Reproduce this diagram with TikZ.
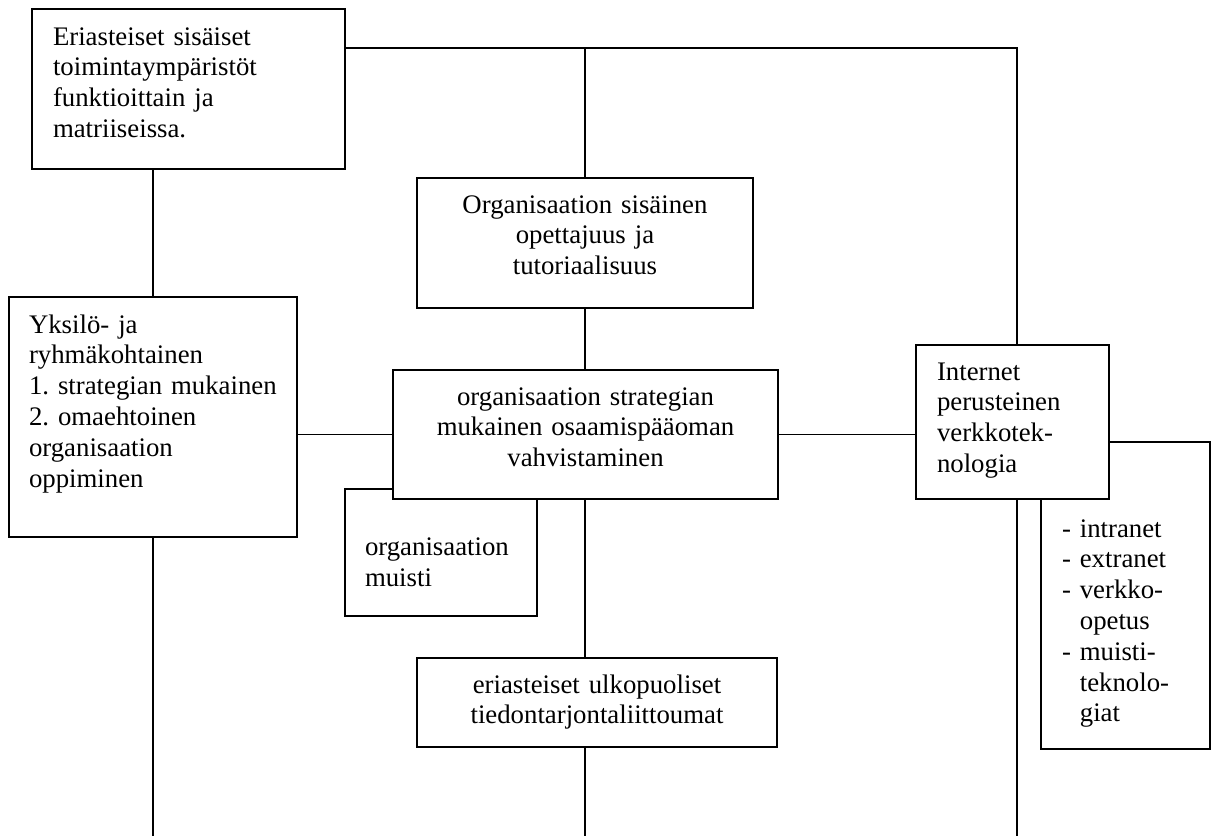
\documentclass[tikz,border=0pt]{standalone}
\usepackage{fontspec}
\setmainfont{Liberation Serif}
\usetikzlibrary{backgrounds}
\frenchspacing
\begin{document}
\begin{tikzpicture}[x=0.448pt,y=-0.448pt,
  box/.style={draw, fill=white, line width=0.6pt, inner ysep=0pt, outer sep=0pt,
    anchor=north west, font=\fontsize{12pt}{13.8pt}\selectfont\frenchspacing},
  lbox/.style={box, align=left, inner xsep=9.41pt},
  cbox/.style={box, align=center, inner xsep=0pt},
  wire/.style={line width=0.6pt}]
\useasboundingbox (0,0) rectangle (1214,836);

% boxes
\node[lbox, text width=121.4pt, text height=16.13pt, text depth=55.55pt] (top) at (32,9)
  {Eriasteiset sisäiset\\toimintaympäristöt\\funktioittain ja\\matriiseissa.};
\node[cbox, text width=150.5pt, text height=15.68pt, text depth=42.56pt] (tutor) at (417,178)
  {Organisaation sisäinen\\opettajuus ja\\tutoriaalisuus};
\node[lbox, inner xsep=8.96pt, text width=111.1pt, text height=16.13pt, text depth=91.4pt] (learn) at (9,297)
  {Yksilö- ja\\ryhmäkohtainen\\1. strategian mukainen\\2. omaehtoinen\\organisaation\\oppiminen};
\node[lbox, inner xsep=8.96pt, text width=68.1pt, text height=30.0pt, text depth=26.88pt] (memory) at (345,489)
  {organisaation\\muisti};
\node[cbox, text width=172.5pt, text height=15.68pt, text depth=42.1pt] (core) at (393,370)
  {organisaation strategian\\mukainen osaamispääoman\\vahvistaminen};
\node[cbox, text width=161.3pt, text height=15.68pt, text depth=24.19pt] (ext) at (417,658)
  {eriasteiset ulkopuoliset\\tiedontarjontaliittoumat};
\node[lbox, text width=56.9pt, text height=42.56pt, text depth=94.98pt] (list) at (1041,442)
  {- intranet\\- extranet\\- verkko-\\\phantom{- }opetus\\- muisti-\\\phantom{- }teknolo-\\\phantom{- }giat};
\node[lbox, text width=67.6pt, text height=15.68pt, text depth=53.3pt] (net) at (916,345)
  {Internet\\perusteinen\\verkkotek-\\nologia};

% bus lines and free ends
\coordinate (bus) at (1017,48);
\coordinate (bot) at (0,836);
\begin{scope}[on background layer]
  \fill[white] (0,0) rectangle (1214,836);
  \draw[wire] (top.east |- bus) -- (bus) -- (bus |- net.north);
  \draw[wire] (tutor.north) -- (tutor.north |- bus);
  \draw[wire] (learn.north) -- (learn.north |- top.south);
  \draw[wire] (tutor.south) -- (core.north -| tutor.south);
  \draw[wire] (core.west) -- (core.west -| learn.east);
  \draw[wire] (core.east) -- (core.east -| net.west);
  \draw[wire] (core.south -| tutor.south) -- (ext.north -| tutor.south);
  \draw[wire] (ext.south -| tutor.south) -- (bot -| tutor.south);
  \draw[wire] (learn.south) -- (learn.south |- bot);
  \draw[wire] (bus |- net.south) -- (bus |- bot);
\end{scope}
\end{tikzpicture}
\end{document}
